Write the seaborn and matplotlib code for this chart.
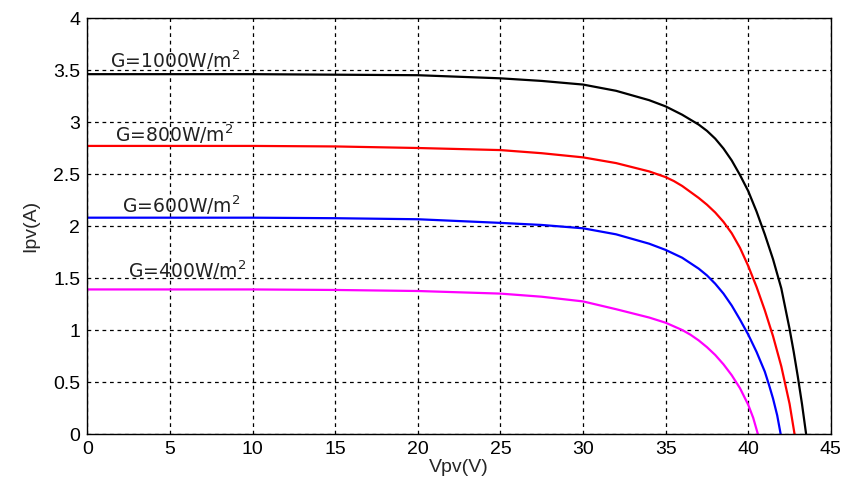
import numpy as np
import pandas as pd
import matplotlib
matplotlib.use("Agg")
import matplotlib.pyplot as plt
import seaborn as sns

# I-V curves
v_1000 = [0, 5, 10, 15, 20, 25, 27.5, 30, 32, 34, 35, 36, 37, 37.5, 38, 38.5, 39, 39.5, 40, 40.5,
          41, 41.5, 42, 42.5, 42.75, 43, 43.25, 43.5]
i_1000 = [3.46, 3.46, 3.46, 3.455, 3.45, 3.42, 3.395, 3.36, 3.30, 3.21, 3.15, 3.07, 2.975, 2.915, 2.84, 2.745, 2.63, 2.49, 2.335, 2.14,
          1.92, 1.68, 1.40, 1.01, 0.79, 0.55, 0.29, 0.0]

v_800 = [0, 5, 10, 15, 20, 25, 27.5, 30, 32, 34, 35, 35.5, 36, 37, 37.5, 38, 38.5, 39, 39.5, 40, 40.5,
         41, 41.5, 42, 42.5, 42.8]
i_800 = [2.77, 2.77, 2.77, 2.765, 2.75, 2.73, 2.70, 2.66, 2.605, 2.525, 2.47, 2.432, 2.385, 2.27, 2.205, 2.13, 2.04, 1.93, 1.79, 1.615, 1.415,
         1.19, 0.94, 0.65, 0.29, 0.0]

v_600 = [0, 5, 10, 15, 20, 25, 27.5, 30, 32, 34, 35, 36, 37, 37.5, 38, 38.5, 39, 39.5, 40, 40.5,
         41, 41.25, 41.5, 41.75, 41.96]
i_600 = [2.08, 2.08, 2.08, 2.075, 2.065, 2.03, 2.01, 1.978, 1.92, 1.83, 1.77, 1.695, 1.59, 1.525, 1.445, 1.35, 1.235, 1.10, 0.955, 0.79,
         0.60, 0.475, 0.34, 0.18, 0.0]

v_400 = [0, 5, 10, 15, 20, 25, 27.5, 30, 32, 34, 35, 36, 36.5, 37, 37.5, 38, 38.5, 39, 39.5, 40, 40.3, 40.58]
i_400 = [1.39, 1.39, 1.39, 1.385, 1.375, 1.35, 1.32, 1.275, 1.20, 1.12, 1.07, 1.0, 0.955, 0.90, 0.835, 0.76, 0.67, 0.565, 0.44, 0.28, 0.155, 0.0]

labels = ["G=1000W/m$^2$", "G=800W/m$^2$", "G=600W/m$^2$", "G=400W/m$^2$"]
colors = ["black", "red", "blue", "magenta"]
label_xy = [(1.4, 3.52), (1.65, 2.81), (2.1, 2.125), (2.45, 1.50)]

frames = []
for lab, v, i in zip(labels, [v_1000, v_800, v_600, v_400], [i_1000, i_800, i_600, i_400]):
    frames.append(pd.DataFrame({"V": v, "I": i, "G": lab}))
df = pd.concat(frames, ignore_index=True)

sns.set_style("white")
plt.rcParams["font.family"] = ["Liberation Sans", "DejaVu Sans"]

fig = plt.figure(figsize=(8.45, 4.84), dpi=100)
ax = fig.add_axes([0.1033, 0.1033, 0.880, 0.8595])

sns.lineplot(data=df, x="V", y="I", hue="G", palette=colors, linewidth=1.6,
             legend=False, sort=False, ax=ax)

for lab, (tx, ty) in zip(labels, label_xy):
    ax.text(tx, ty, lab, fontsize=13.5, family="DejaVu Sans", color="#222222",
            ha="left", va="baseline")

ax.set_xlim(0, 45)
ax.set_ylim(0, 4)
ax.set_xticks(np.arange(0, 46, 5))
ax.set_yticks(np.arange(0, 4.01, 0.5))
ax.set_yticklabels(["0", "0.5", "1", "1.5", "2", "2.5", "3", "3.5", "4"])
ax.grid(True, color="black", linestyle=(0, (3, 3)), linewidth=0.9)
ax.tick_params(direction="in", length=4, labelsize=14, colors="black", pad=5)
for s in ax.spines.values():
    s.set_color("black")
    s.set_linewidth(1.0)

ax.set_xlabel("Vpv(V)", fontsize=14, labelpad=1)
ax.set_ylabel("Ipv(A)", fontsize=14, labelpad=10)

fig.savefig("out.png", dpi=100)
